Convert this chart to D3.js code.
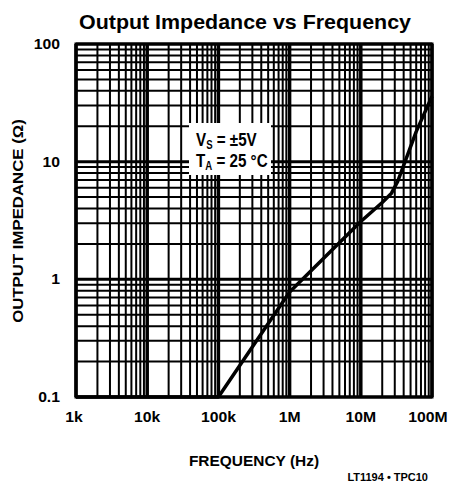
<!DOCTYPE html>
<html>
<head>
<meta charset="utf-8">
<script src="https://cdn.jsdelivr.net/npm/d3@7"></script>
<style>
  body { margin: 0; background: #fff; }
  text { font-family: "Liberation Sans", Arial, sans-serif; font-weight: bold; fill: #000; }
</style>
</head>
<body>
<div id="chart"></div>
<script>
var freq = [1e3, 1e5, 1e6, 1e7, 2e7, 2.7e7, 3.3e7, 4e7, 6e7, 1e8];
var impedance = [0.1, 0.1, 0.78, 3.1, 4.5, 5.4, 6.8, 9.3, 18, 36];

var xTicks = [1e3, 1e4, 1e5, 1e6, 1e7, 1e8];
var xTickLabels = ["1k", "10k", "100k", "1M", "10M", "100M"];
var yTicks = [0.1, 1, 10, 100];
var yTickLabels = ["0.1", "1", "10", "100"];

var W = 452, H = 484;
var m = {left: 76, top: 44, right: 20, bottom: 87};
var w = W - m.left - m.right, h = H - m.top - m.bottom;

var svg = d3.select("#chart").append("svg").attr("width", W).attr("height", H);

var x = d3.scaleLog().domain([1e3, 1e8]).range([0, w]);
var y = d3.scaleLog().domain([0.1, 100]).range([h, 0]);

var g = svg.append("g").attr("transform", "translate(" + m.left + "," + m.top + ")");

// minor grid values: 2..9 in each decade
function minors(lo, hi) {
    var out = [];
    for (var d = lo; d < hi; d *= 10) {
        for (var k = 2; k <= 9; k++) out.push(d * k);
    }
    return out;
}

// text squeezed or stretched sideways
function label(parent, tx, ty, size, sx, anchor, str) {
    return parent.append("text")
        .attr("transform", "translate(" + tx + "," + ty + ") scale(" + sx + ",1)")
        .attr("text-anchor", anchor)
        .style("font-size", size + "px")
        .text(str);
}

g.selectAll(".vminor").data(minors(1e3, 1e8)).enter().append("line")
    .attr("x1", function (d) { return x(d); })
    .attr("x2", function (d) { return x(d); })
    .attr("y1", 0).attr("y2", h)
    .style("stroke", "#000").style("stroke-width", 2);

g.selectAll(".hminor").data(minors(0.1, 100)).enter().append("line")
    .attr("y1", function (d) { return y(d); })
    .attr("y2", function (d) { return y(d); })
    .attr("x1", 0).attr("x2", w)
    .style("stroke", "#000").style("stroke-width", 2);

g.selectAll(".vmajor").data(xTicks).enter().append("line")
    .attr("x1", function (d) { return x(d); })
    .attr("x2", function (d) { return x(d); })
    .attr("y1", 0).attr("y2", h)
    .style("stroke", "#000").style("stroke-width", 3.5);

g.selectAll(".hmajor").data(yTicks).enter().append("line")
    .attr("y1", function (d) { return y(d); })
    .attr("y2", function (d) { return y(d); })
    .attr("x1", 0).attr("x2", w)
    .style("stroke", "#000").style("stroke-width", 3);

// condition box
g.append("rect")
    .attr("x", 113).attr("y", 79)
    .attr("width", 82).attr("height", 52)
    .style("fill", "#fff");

var note = g.append("text").attr("transform", "translate(120,102) scale(0.8,1)").style("font-size", "19px");
note.append("tspan").text("V");
note.append("tspan").attr("dy", 3).style("font-size", "12px").text("S");
note.append("tspan").attr("dy", -3).text(" = ±5V");
var note2 = g.append("text").attr("transform", "translate(120,123) scale(0.8,1)").style("font-size", "19px");
note2.append("tspan").text("T");
note2.append("tspan").attr("dy", 3).style("font-size", "12px").text("A");
note2.append("tspan").attr("dy", -3).text(" = 25 °C");

// curve
var line = d3.line()
    .x(function (d, i) { return x(freq[i]); })
    .y(function (d) { return y(d); });

g.append("path")
    .datum(impedance)
    .attr("d", line)
    .style("fill", "none")
    .style("stroke", "#000")
    .style("stroke-width", 3.5)
    .style("stroke-linejoin", "round");

// border
g.append("rect")
    .attr("width", w).attr("height", h)
    .style("fill", "none").style("stroke", "#000").style("stroke-width", 3);

// tick labels
xTicks.forEach(function (d, i) {
    var tx = x(d) - (i === 0 ? 2 : 0) - (i === xTicks.length - 1 ? 4 : 0);
    label(g, tx, h + 25, 15, 1.05, "middle", xTickLabels[i]);
});

yTicks.forEach(function (d, i) {
    label(g, -16, y(d) + 5, 15, 1.05, "end", yTickLabels[i]);
});

// titles
label(svg, 245, 29, 21, 1.02, "middle", "Output Impedance vs Frequency").style("font-weight", "900");
label(svg, 254, 466, 15, 1.03, "middle", "FREQUENCY (Hz)");

svg.append("text")
    .attr("transform", "translate(23,221) rotate(-90) scale(1.12,1)")
    .attr("text-anchor", "middle")
    .style("font-size", "15px")
    .text("OUTPUT IMPEDANCE (Ω)");

label(svg, 428, 481, 10, 1.1, "end", "LT1194 • TPC10");
</script>
</body>
</html>
